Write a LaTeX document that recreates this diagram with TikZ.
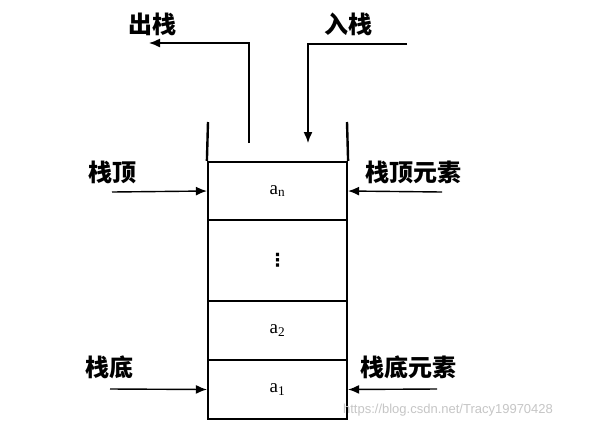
\documentclass[tikz,border=0pt]{standalone}
\usepackage{fontspec}
\setmainfont{Liberation Serif}
\newfontfamily\cjk{Noto Sans CJK SC}
\newfontfamily\wmfont{Liberation Sans}
\newfontfamily\symfont{DejaVu Sans}
\usetikzlibrary{arrows.meta}
\begin{document}
\begin{tikzpicture}[x=1pt,y=-1pt,
  wall/.style={line width=2.4pt},
  cell/.style={draw,line width=2.2pt,minimum width=139pt,inner sep=0pt,font=\fontsize{19}{19}\selectfont},
  arr/.style={line width=1.4pt,-{Latex[length=11pt,width=9pt]}},
  lab/.style={font=\cjk\fontsize{24}{24}\selectfont\bfseries,inner sep=0pt}]
\useasboundingbox[fill=white] (0,0) rectangle (591,429);
% cells
\node[cell,minimum height=58pt] (an) at (277.5,191) {a\textsubscript{n}};
\node[cell,minimum height=81pt,font=\symfont\bfseries\fontsize{18}{18}\selectfont] (dots) at (277.5,260.5) {⋮};
\node[cell,minimum height=59pt] (a2) at (277.5,330.5) {a\textsubscript{2}};
\node[cell,minimum height=59pt] (a1) at (277.5,389.5) {a\textsubscript{1}};
% walls
\coordinate (wl) at (208,122);
\coordinate (wr) at (347,122);
\draw[wall] (wl) -- (an.north west);
\draw[wall] (wr) -- (an.north east);
% labels
\node[lab] (out) at (152,24) {出栈};
\node[lab] (in) at (348,24) {入栈};
\node[lab] (top) at (112,172) {栈顶};
\node[lab] (topel) at (413,172) {栈顶元素};
\node[lab] (bot) at (109,367) {栈底};
\node[lab] (botel) at (408,367) {栈底元素};
% out / in arrows
\coordinate (os) at (249,143);
\coordinate (oe) at (149,43);
\draw[arr] (os) |- (oe);
\coordinate (is) at (407,44);
\coordinate (ie) at (308,143);
\draw[arr] (is) -| (ie);
% side arrows
\coordinate (ts) at (112,192);
\coordinate (tes) at (442,192);
\coordinate (bs) at (110,389);
\coordinate (bes) at (437,389);
\draw[arr] (ts) -- (an.west);
\draw[arr] (tes) -- (an.east);
\draw[arr] (bs) -- (a1.west);
\draw[arr] (bes) -- (a1.east);
% watermark
\node[font=\wmfont\fontsize{13}{13}\selectfont,text=gray!45,inner sep=0pt] (wm) at (448,410) {https://blog.csdn.net/Tracy19970428};
\end{tikzpicture}
\end{document}
